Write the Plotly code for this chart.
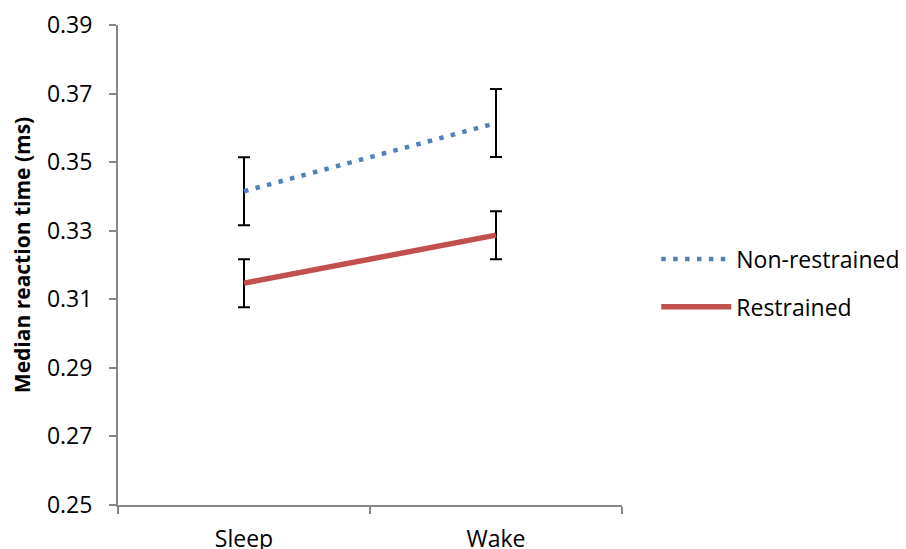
import plotly.graph_objects as go

categories = ["Sleep", "Wake"]
non_restrained = [0.3415, 0.3614]
non_restrained_err = [0.0099, 0.0099]
restrained = [0.3147, 0.3287]
restrained_err = [0.0070, 0.0070]
y_ticks = [0.25, 0.27, 0.29, 0.31, 0.33, 0.35, 0.37, 0.39]

FONT = "Open Sans"
AXIS_COLOR = "#868686"

fig = go.Figure()
fig.add_trace(go.Scatter(
    x=categories, y=non_restrained, name="Non-restrained", mode="lines", legendgroup="a",
    line=dict(color="#4F81BD", width=4.5, dash="4.5px,7.4px"),
    error_y=dict(type="data", array=non_restrained_err, color="black", thickness=2, width=6),
))
fig.add_trace(go.Scatter(
    x=categories, y=restrained, name="Restrained", mode="lines", legendgroup="b",
    line=dict(color="#C0504D", width=5.5),
    error_y=dict(type="data", array=restrained_err, color="black", thickness=2, width=6),
))

# the page body has an 8px margin; the figure is sized so it ends at the window edge
fig.update_layout(
    width=898, height=541,
    margin=dict(l=110, r=284, t=17, b=44, autoexpand=False),
    plot_bgcolor="white", paper_bgcolor="white",
    font=dict(family=FONT, size=23, color="black"),
    showlegend=True,
    legend=dict(x=1.068, y=0.4625, xanchor="left", yanchor="middle", xref="paper", yref="paper",
                itemwidth=70, font=dict(size=23), traceorder="grouped", tracegroupgap=15,
                bgcolor="rgba(0,0,0,0)"),
    xaxis=dict(
        type="category", range=[-0.5, 1.5], showline=True, linecolor=AXIS_COLOR, linewidth=2,
        ticks="outside", tickson="boundaries", ticklen=7, tickcolor=AXIS_COLOR, tickwidth=2,
        showgrid=False, zeroline=False, tickfont=dict(size=23), automargin=False,
        ticklabelstandoff=12,
    ),
    yaxis=dict(
        range=[0.25, 0.39], tickvals=y_ticks, ticktext=[f"{v:.2f}" for v in y_ticks],
        showline=True, linecolor=AXIS_COLOR, linewidth=2,
        ticks="outside", ticklen=7, tickcolor=AXIS_COLOR, tickwidth=2,
        showgrid=False, zeroline=False, tickfont=dict(size=23), automargin=False,
        ticklabelstandoff=12,
    ),
    annotations=[dict(
        text="<b>Median reaction time (ms)</b>", textangle=-90, showarrow=False,
        xref="paper", yref="paper", x=-0.19, y=0.521, xanchor="center", yanchor="middle",
        font=dict(size=21, family=FONT, color="black"),
    )],
)

fig.write_html("out.html")
